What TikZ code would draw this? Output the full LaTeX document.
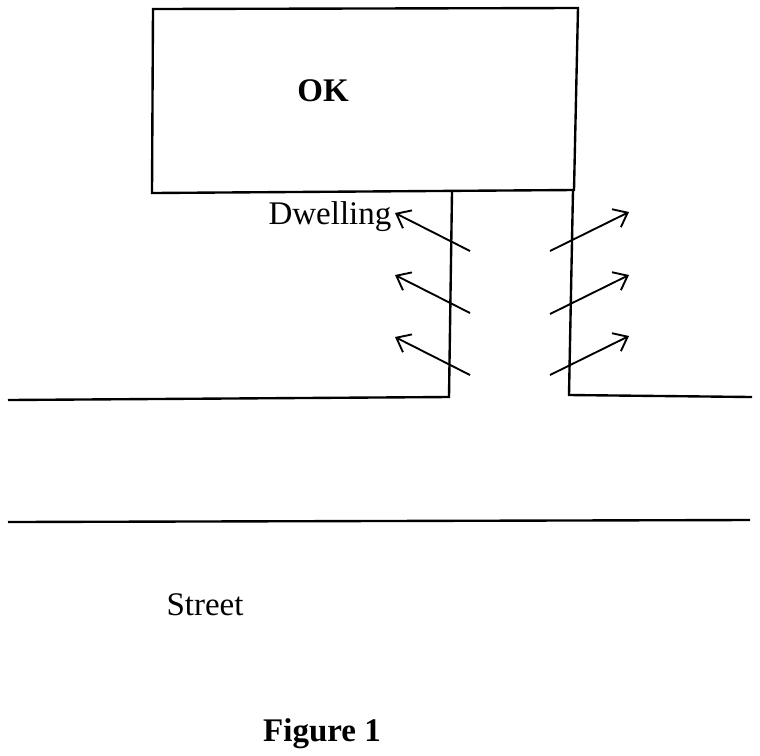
\documentclass[tikz,border=0pt]{standalone}
\usepackage{fontspec}
\setmainfont{Liberation Serif}
\usetikzlibrary{arrows.meta}
\usetikzlibrary{positioning}

\begin{document}
\begin{tikzpicture}[x=0.4pt,y=-0.4pt,line join=miter,
  wall/.style={line width=0.95pt},
  flow/.style={line width=0.75pt,-{Straight Barb[length=5pt,width=8pt,line width=0.75pt]}},
  lbl/.style={font=\fontsize{13.2pt}{15pt}\selectfont,inner sep=0pt}]
  \useasboundingbox (0,0) rectangle (760,755);
  % the OK building
  \draw[wall] (153,9) -- (578,8) -- (574,190) -- (152,193) -- cycle;
  \node[lbl,font=\fontsize{13.2pt}{15pt}\selectfont\bfseries] (ok) at (323,91) {OK};
  % passage walls and street edges
  \draw[wall] (8,400) -- (449,397) -- (452,192);
  \draw[wall] (573,190) -- (569,395) -- (752,397);
  \draw[wall] (8,522) -- (750,520);
  \node[lbl] (dwelling) at (330,217) {Dwelling};
  \node[lbl] (street) at (205,605) {Street};
  \node[lbl,font=\fontsize{13.2pt}{15pt}\selectfont\bfseries] (fig) at (322,734) {Figure 1};
  % airflow arrows
  \foreach \i/\ly/\ry in {1/251/251,2/313/314,3/375/375}{
    \coordinate (lt\i) at (470,\ly);
    \coordinate (lh\i) at (395,\ly-38);
    \coordinate (rt\i) at (550,\ry);
    \coordinate (rh\i) at (629,\ry-39);
    \draw[flow] (lt\i) -- (lh\i);
    \draw[flow] (rt\i) -- (rh\i);
  }
\end{tikzpicture}
\end{document}
